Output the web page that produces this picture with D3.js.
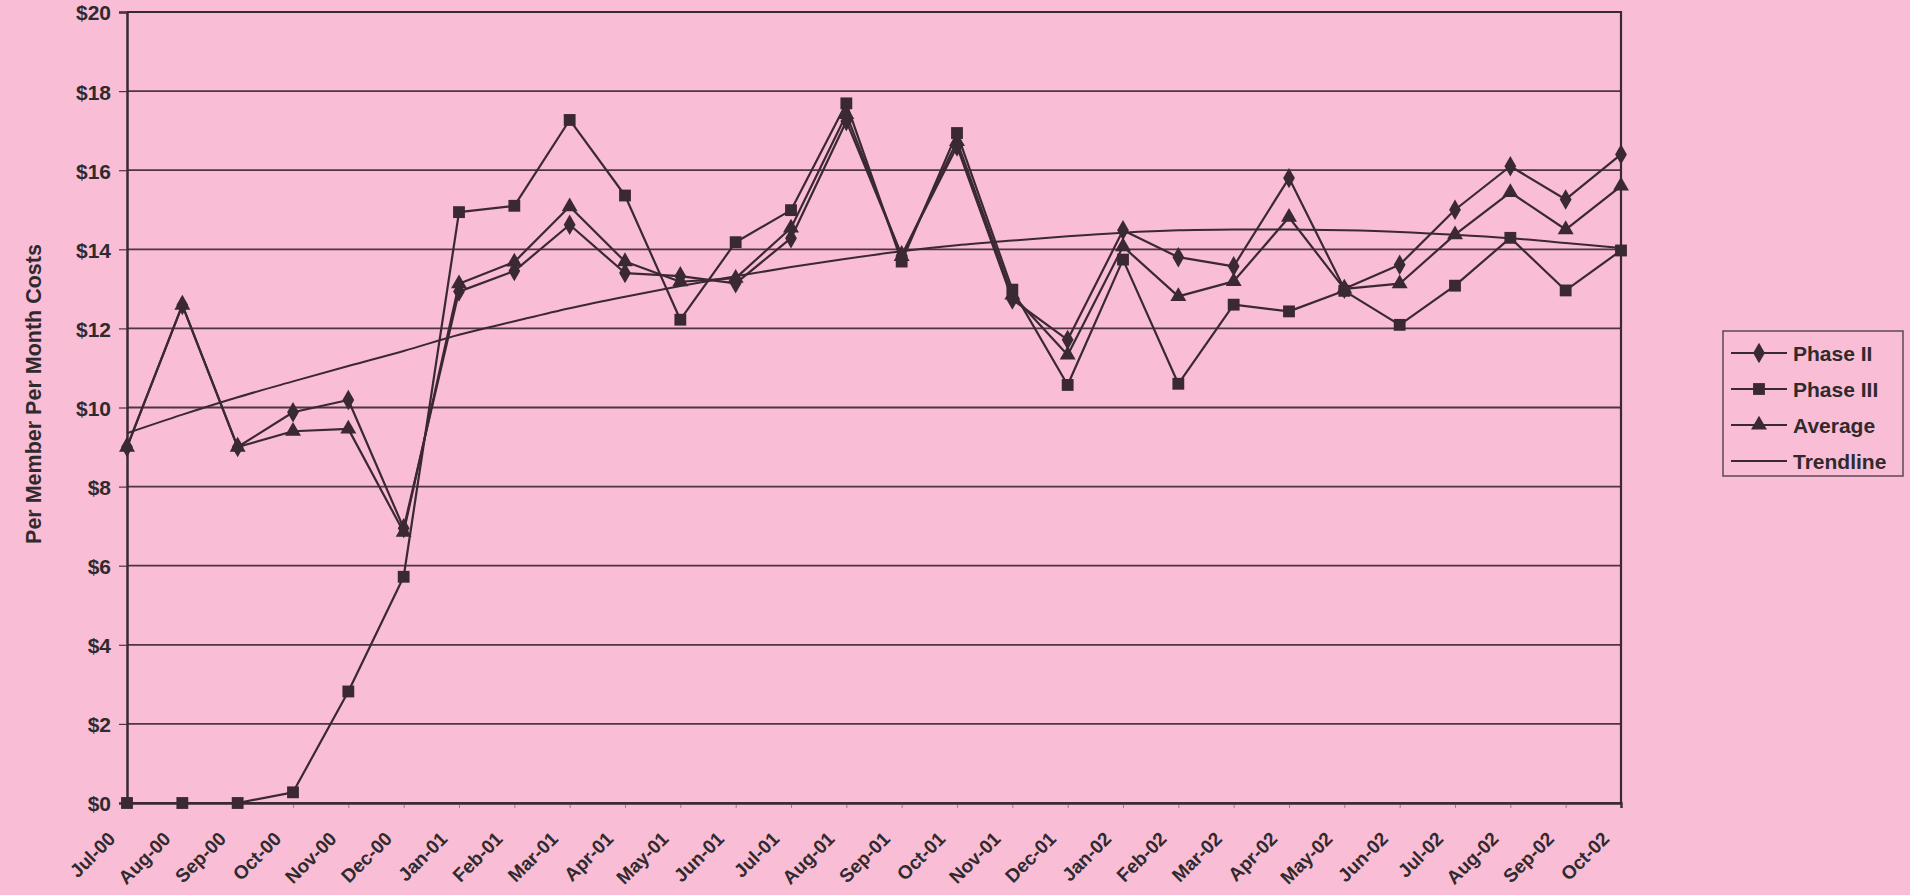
<!DOCTYPE html>
<html>
<head>
<meta charset="utf-8">
<script src="https://cdn.jsdelivr.net/npm/d3@7"></script>
<style>
  html, body { margin: 0; padding: 0; background: #f9bdd5; }
  svg { display: block; }
  text { font-family: "Liberation Sans", Arial, sans-serif; font-weight: bold; fill: #2f2a2d; }
</style>
</head>
<body>
<svg id="chart" width="1910" height="895"></svg>
<script>
// Monthly per-member-per-month costs, Jul-00 through Oct-02
const months = ["Jul-00","Aug-00","Sep-00","Oct-00","Nov-00","Dec-00",
  "Jan-01","Feb-01","Mar-01","Apr-01","May-01","Jun-01","Jul-01","Aug-01","Sep-01","Oct-01","Nov-01","Dec-01",
  "Jan-02","Feb-02","Mar-02","Apr-02","May-02","Jun-02","Jul-02","Aug-02","Sep-02","Oct-02"];

const phaseII = [9.0, 12.59, 9.0, 9.88, 10.19, 6.95, 12.93, 13.45, 14.62, 13.4, 13.32, 13.14, 14.28, 17.24,
  13.85, 16.6, 12.73, 11.71, 14.48, 13.8, 13.57, 15.8, 13.0, 13.61, 15.0, 16.1, 15.26, 16.4];

const phaseIII = [0, 0, 0, 0.27, 2.82, 5.72, 14.94, 15.1, 17.27, 15.36, 12.22, 14.18, 14.99, 17.69,
  13.69, 16.94, 12.98, 10.57, 13.74, 10.6, 12.6, 12.43, 12.95, 12.09, 13.08, 14.29, 12.96, 13.97];

const average = [9.0, 12.59, 9.0, 9.4, 9.46, 6.85, 13.13, 13.68, 15.08, 13.69, 13.18, 13.27, 14.54, 17.41,
  13.82, 16.73, 12.85, 11.33, 14.07, 12.81, 13.19, 14.81, 13.0, 13.13, 14.37, 15.44, 14.5, 15.6];

const trendline = [9.35, 9.82, 10.26, 10.66, 11.05, 11.43, 11.84, 12.18, 12.51, 12.8, 13.07, 13.32, 13.55, 13.76,
  13.95, 14.1, 14.22, 14.33, 14.42, 14.48, 14.5, 14.5, 14.48, 14.44, 14.37, 14.28, 14.16, 14.03];

const yTicks = [0, 2, 4, 6, 8, 10, 12, 14, 16, 18, 20];
const yTitle = "Per Member Per Month Costs";

const series = [
  { name: "Phase II", values: phaseII, symbol: d3.symbolDiamond, size: 120 },
  { name: "Phase III", values: phaseIII, symbol: d3.symbolSquare, size: 140 },
  { name: "Average", values: average, symbol: d3.symbolTriangle, size: 110 }
];

const ink = "#3a2832";
const gridInk = "#4e3543";

const svg = d3.select("#chart");
const plot = { left: 127, right: 1621, top: 12, bottom: 803 };

const x = d3.scalePoint().domain(months).range([plot.left, plot.right]).padding(0);
const y = d3.scaleLinear().domain([0, 20]).range([plot.bottom, plot.top]);

// Horizontal gridlines
svg.append("g")
  .selectAll("line")
  .data(yTicks)
  .join("line")
  .attr("x1", plot.left).attr("x2", plot.right)
  .attr("y1", d => y(d)).attr("y2", d => y(d))
  .attr("stroke", gridInk).attr("stroke-width", 1.8);

// Y axis with dollar labels
const yAxis = svg.append("g")
  .attr("transform", `translate(${plot.left},0)`)
  .call(d3.axisLeft(y).tickValues(yTicks).tickFormat(d => "$" + d).tickSize(8).tickPadding(8));
yAxis.select(".domain").attr("stroke", ink).attr("stroke-width", 2.5);
yAxis.selectAll(".tick line").attr("stroke", gridInk).attr("stroke-width", 1.2);
yAxis.selectAll(".tick text")
  .attr("font-size", 21).attr("font-family", "Liberation Sans, Arial, sans-serif")
  .attr("font-weight", "bold").attr("fill", "#2f2a2d").attr("dy", "0.38em");

// X axis with rotated month labels
const xAxis = svg.append("g")
  .attr("transform", `translate(0,${plot.bottom})`)
  .call(d3.axisBottom(x).tickSize(5).tickPadding(0));
xAxis.select(".domain").attr("stroke", ink).attr("stroke-width", 2.5);
xAxis.selectAll(".tick line").attr("stroke", gridInk).attr("stroke-width", 1).attr("opacity", 0.5);
xAxis.selectAll(".tick text")
  .attr("font-size", 19).attr("font-family", "Liberation Sans, Arial, sans-serif")
  .attr("font-weight", "bold").attr("fill", "#2f2a2d")
  .attr("text-anchor", "end")
  .attr("y", 0).attr("dy", 0)
  .attr("transform", "translate(-11,37) rotate(-45)");

// Plot frame: top and right edges
svg.append("path")
  .attr("d", `M${plot.left},${plot.top}H${plot.right}V${plot.bottom}`)
  .attr("fill", "none").attr("stroke", ink).attr("stroke-width", 2.2);

// Y axis title
svg.append("text")
  .attr("transform", `translate(41,394) rotate(-90)`)
  .attr("text-anchor", "middle")
  .attr("font-size", 21.5)
  .attr("fill", "#54434c")
  .text(yTitle);

// Trendline
const trendLine = d3.line()
  .x((d, i) => x(months[i]))
  .y(d => y(d))
  .curve(d3.curveCatmullRom.alpha(0.5));
svg.append("path")
  .datum(trendline)
  .attr("d", trendLine)
  .attr("fill", "none").attr("stroke", ink).attr("stroke-width", 2);

// Data series: lines then markers
const line = d3.line().x((d, i) => x(months[i])).y(d => y(d));
series.forEach(s => {
  svg.append("path")
    .datum(s.values)
    .attr("d", line)
    .attr("fill", "none").attr("stroke", ink).attr("stroke-width", 2.2)
    .attr("stroke-linejoin", "round");
});
series.forEach(s => {
  svg.append("g")
    .selectAll("path")
    .data(s.values)
    .join("path")
    .attr("transform", (d, i) => `translate(${x(months[i])},${y(d)})`)
    .attr("d", d3.symbol().type(s.symbol).size(s.size))
    .attr("fill", ink);
});

// Legend
const legend = svg.append("g");
legend.append("rect")
  .attr("x", 1723).attr("y", 331).attr("width", 180).attr("height", 145)
  .attr("fill", "none").attr("stroke", "#5e4853").attr("stroke-width", 1.5);

const legendItems = series.map(s => ({ name: s.name, symbol: s.symbol, size: s.size }))
  .concat([{ name: "Trendline", symbol: null }]);
const legendY = d3.scalePoint().domain(legendItems.map(d => d.name)).range([353, 461]);

const entry = legend.selectAll("g.entry")
  .data(legendItems)
  .join("g")
  .attr("class", "entry")
  .attr("transform", d => `translate(0,${legendY(d.name)})`);
entry.append("line")
  .attr("x1", 1731).attr("x2", 1787).attr("y1", 0).attr("y2", 0)
  .attr("stroke", ink).attr("stroke-width", 2);
entry.filter(d => d.symbol)
  .append("path")
  .attr("transform", "translate(1759,0)")
  .attr("d", d => d3.symbol().type(d.symbol).size(d.size)())
  .attr("fill", ink);
entry.append("text")
  .attr("x", 1793).attr("y", 0).attr("dy", "0.36em")
  .attr("font-size", 21)
  .attr("font-family", "DejaVu Sans, sans-serif")
  .text(d => d.name);
</script>
</body>
</html>
